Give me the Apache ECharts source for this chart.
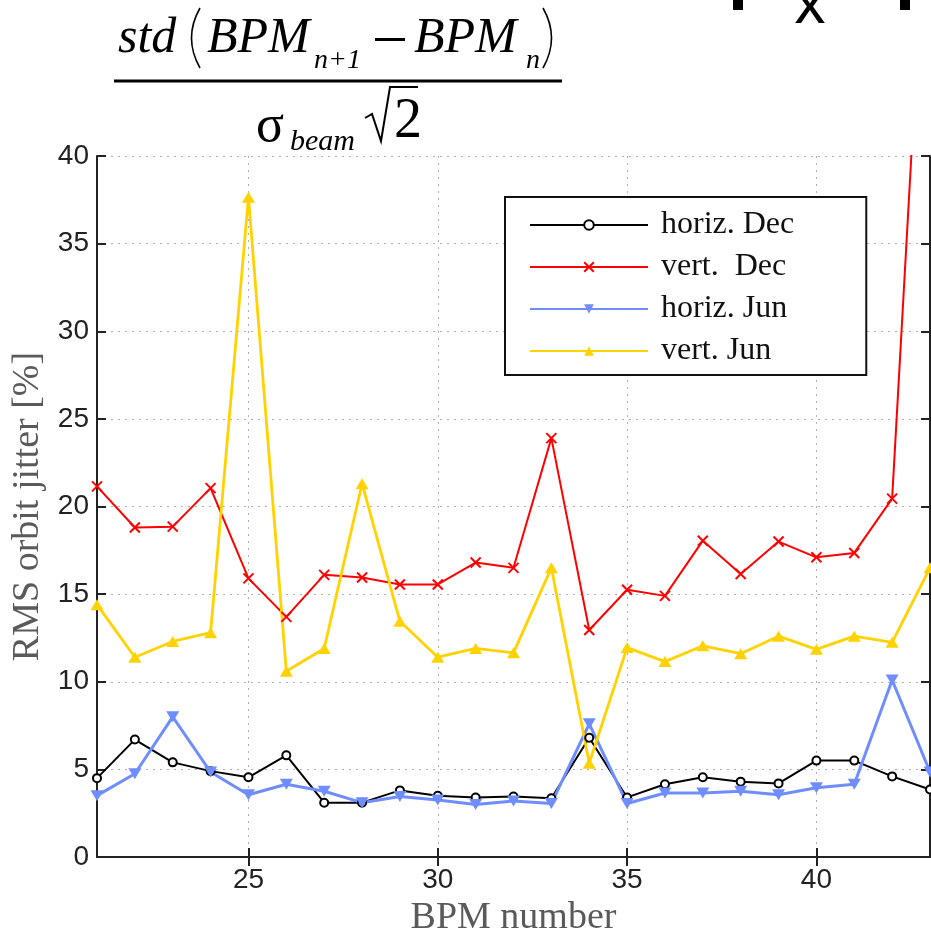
<!DOCTYPE html>
<html>
<head>
<meta charset="utf-8">
<script src="https://cdn.jsdelivr.net/npm/echarts@6/dist/echarts.min.js"></script>
<style>
html,body{margin:0;padding:0;background:#fff;}
#chart{width:931px;height:928px;}
</style>
</head>
<body>
<div id="chart"></div>
<script>
const bpmNumbers = ['21','22','23','24','25','26','27','28','29','30','31','32','33','34','35','36','37','38','39','40','41','42','43'];
const horizDec = [4.5, 6.7, 5.4, 4.9, 4.55, 5.8, 3.1, 3.1, 3.8, 3.5, 3.4, 3.45, 3.35, 6.8, 3.4, 4.15, 4.55, 4.3, 4.2, 5.5, 5.5, 4.6, 3.85];
const vertDec = [21.15, 18.8, 18.85, 21.05, 15.9, 13.7, 16.1, 15.95, 15.55, 15.55, 16.8, 16.5, 23.9, 12.95, 15.25, 14.9, 18.05, 16.15, 18.0, 17.1, 17.35, 20.45, 59];
const horizJun = [3.5, 4.75, 8.0, 4.85, 3.55, 4.15, 3.75, 3.1, 3.45, 3.25, 3.0, 3.2, 3.05, 7.6, 3.05, 3.65, 3.65, 3.75, 3.55, 3.95, 4.15, 10.1, 4.85];
const vertJun = [14.4, 11.4, 12.3, 12.8, 37.65, 10.6, 11.9, 21.3, 13.45, 11.4, 11.9, 11.65, 16.5, 5.35, 11.95, 11.15, 12.05, 11.6, 12.6, 11.85, 12.6, 12.25, 16.5];
const seriesNames = ['horiz. Dec', 'vert.  Dec', 'horiz. Jun', 'vert. Jun'];
const yTickStep = 5;
const xTickStep = 5;

const everyFifth = (idx, val) => Number(val) % xTickStep === 0;
const axisColor = '#222';
const gridLine = {show: true, lineStyle: {type: [2, 5], color: '#b0b0b0', width: 1}};
const serif = 'Liberation Serif';

const chart = echarts.init(document.getElementById('chart'), null, {renderer: 'canvas'});
const option = {
  animation: false,
  backgroundColor: '#fff',
  grid: {left: 97, right: 1, top: 156, bottom: 71, containLabel: false, outerBoundsMode: 'none'},
  legend: {
    orient: 'vertical',
    left: 505, top: 197,
    itemWidth: 118, itemHeight: 12, itemGap: 10,
    padding: [12, 72, 8, 24],
    borderColor: '#111', borderWidth: 2,
    backgroundColor: '#fff',
    textStyle: {fontFamily: serif, fontSize: 32, lineHeight: 32, color: '#111', padding: [0, 0, 0, 8]},
    data: seriesNames
  },
  xAxis: [{
    type: 'category', data: bpmNumbers, boundaryGap: false,
    name: 'BPM number', nameLocation: 'middle', nameGap: 33,
    nameTextStyle: {fontFamily: serif, fontSize: 38, color: '#5a5a5a'},
    axisLine: {lineStyle: {color: axisColor, width: 2}},
    axisTick: {inside: true, length: 9, interval: everyFifth, lineStyle: {color: axisColor, width: 2}},
    axisLabel: {interval: everyFifth, fontFamily: 'Liberation Sans', fontSize: 28, color: '#222', margin: 9},
    splitLine: Object.assign({interval: everyFifth}, gridLine)
  }, {
    type: 'category', data: bpmNumbers, boundaryGap: false, position: 'top',
    axisLine: {lineStyle: {color: axisColor, width: 2}},
    axisTick: {inside: true, length: 9, interval: everyFifth, lineStyle: {color: axisColor, width: 2}},
    axisLabel: {show: false}, splitLine: {show: false}
  }],
  yAxis: [{
    type: 'value', min: 0, max: 40, interval: yTickStep,
    name: 'RMS orbit jitter [%]', nameLocation: 'middle', nameGap: 43,
    nameTextStyle: {fontFamily: serif, fontSize: 38, color: '#5a5a5a'},
    axisLine: {show: true, lineStyle: {color: axisColor, width: 2}},
    axisTick: {show: true, inside: true, length: 9, lineStyle: {color: axisColor, width: 2}},
    axisLabel: {fontFamily: 'Liberation Sans', fontSize: 28, color: '#222', margin: 8},
    splitLine: gridLine
  }, {
    type: 'value', min: 0, max: 40, interval: yTickStep, position: 'right',
    axisLine: {show: true, lineStyle: {color: axisColor, width: 2}},
    axisTick: {show: true, inside: true, length: 9, lineStyle: {color: axisColor, width: 2}},
    axisLabel: {show: false}, splitLine: {show: false}
  }],
  series: [{
    name: seriesNames[0], type: 'line', data: horizDec,
    symbol: 'emptyCircle', symbolSize: 8, showAllSymbol: true,
    lineStyle: {color: '#000', width: 2},
    itemStyle: {color: '#000', borderColor: '#000', borderWidth: 1.5}
  }, {
    name: seriesNames[1], type: 'line', data: vertDec,
    symbol: 'path://M0,0L10,10M10,0L0,10', symbolSize: 10, showAllSymbol: true,
    lineStyle: {color: '#ff0000', width: 2},
    itemStyle: {color: '#ff0000', borderColor: '#ff0000', borderWidth: 2}
  }, {
    name: seriesNames[2], type: 'line', data: horizJun,
    symbol: 'triangle', symbolRotate: 180, symbolSize: [13, 11], showAllSymbol: true,
    lineStyle: {color: '#6f8dff', width: 3},
    itemStyle: {color: '#6f8dff'}
  }, {
    name: seriesNames[3], type: 'line', data: vertJun,
    symbol: 'triangle', symbolSize: [13, 11], showAllSymbol: true,
    lineStyle: {color: '#ffd200', width: 2.8},
    itemStyle: {color: '#ffd200'}
  }],
  graphic: [
    {type: 'text', x: 118, y: 38.5, style: {text: 'std', font: 'italic 50px "Liberation Serif"', fill: '#000', verticalAlign: 'middle'}},
    {type: 'bezierCurve', shape: {x1: 200, y1: 8, cpx1: 183, cpy1: 38, x2: 200, y2: 68}, style: {fill: null, stroke: '#000', lineWidth: 1.6}},
    {type: 'text', x: 207, y: 38.5, style: {text: 'BPM', font: 'italic 50px "Liberation Serif"', fill: '#000', verticalAlign: 'middle'}},
    {type: 'text', x: 314, y: 61, style: {text: 'n+1', font: 'italic 28px "Liberation Serif"', fill: '#000', verticalAlign: 'middle'}},
    {type: 'rect', shape: {x: 375, y: 38, width: 30, height: 3}, style: {fill: '#000'}},
    {type: 'text', x: 414, y: 38.5, style: {text: 'BPM', font: 'italic 50px "Liberation Serif"', fill: '#000', verticalAlign: 'middle'}},
    {type: 'text', x: 526, y: 61, style: {text: 'n', font: 'italic 28px "Liberation Serif"', fill: '#000', verticalAlign: 'middle'}},
    {type: 'bezierCurve', shape: {x1: 543, y1: 8, cpx1: 560, cpy1: 38, x2: 543, y2: 68}, style: {fill: null, stroke: '#000', lineWidth: 1.6}},
    {type: 'rect', shape: {x: 114, y: 79.5, width: 448, height: 3}, style: {fill: '#000'}},
    {type: 'text', x: 256, y: 127, style: {text: 'σ', font: '52px "Liberation Serif"', fill: '#000', verticalAlign: 'middle'}},
    {type: 'text', x: 290, y: 142, style: {text: 'beam', font: 'italic 30px "Liberation Serif"', fill: '#000', verticalAlign: 'middle'}},
    {type: 'polyline', shape: {points: [[365, 118], [372, 114], [381, 141], [390, 87], [418, 87]]}, style: {fill: null, stroke: '#000', lineWidth: 2}},
    {type: 'text', x: 394, y: 122, style: {text: '2', font: '56px "Liberation Serif"', fill: '#000', verticalAlign: 'middle'}},
    {type: 'rect', shape: {x: 733, y: 0, width: 10, height: 10}, style: {fill: '#000'}},
    {type: 'rect', shape: {x: 900, y: 0, width: 10, height: 10}, style: {fill: '#000'}},
    {type: 'text', x: 810, y: 6, style: {text: 'x', font: '62px "Liberation Sans"', fill: '#000', align: 'center', verticalAlign: 'middle'}}
  ]
};
chart.setOption(option);
</script>
</body>
</html>
